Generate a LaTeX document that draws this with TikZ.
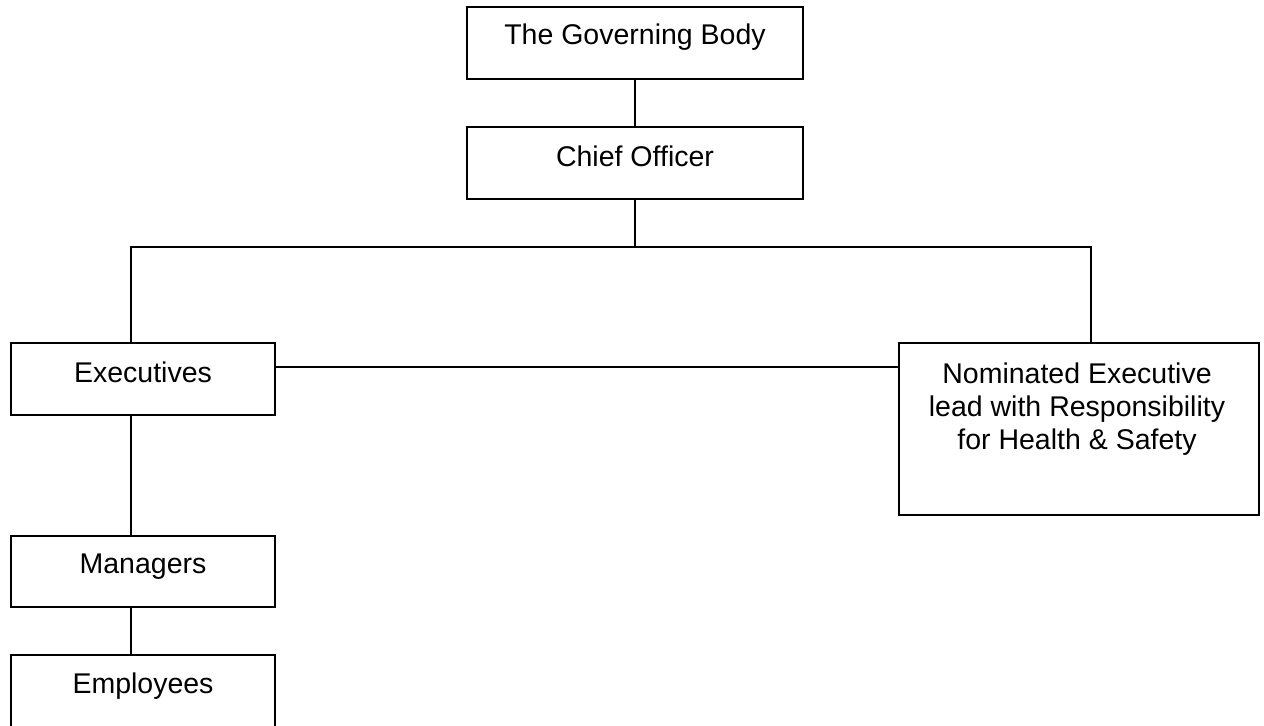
\documentclass[tikz,border=0pt]{standalone}
\usepackage{fontspec}
\setmainfont{Liberation Sans}
\begin{document}
\begin{tikzpicture}[x=0.5pt,y=-0.5pt,
  box/.style={draw=black, line width=1pt, fill=none},
  lbl/.style={anchor=base, align=center, inner sep=0pt, font=\fontsize{14.25}{14}\selectfont},
  conn/.style={draw=black, line width=1pt}]
\useasboundingbox (0,0) rectangle (1264,725);
\clip (0,0) rectangle (1264,725);
% boxes
\draw[box] (467,7) rectangle (803,79);
\coordinate (gbS) at (635,79);
\draw[box] (467,127) rectangle (803,199);
\coordinate (coN) at (635,127);
\coordinate (coS) at (635,199);
\draw[box] (11,343) rectangle (275,415);
\coordinate (exN) at (131,343);
\coordinate (exS) at (131,415);
\coordinate (exE) at (275,367);
\draw[box] (899,343) rectangle (1259,515);
\coordinate (neN) at (1091,343);
\coordinate (neW) at (899,367);
\draw[box] (11,536) rectangle (275,607);
\coordinate (maN) at (131,536);
\coordinate (maS) at (131,607);
\draw[box] (11,655) rectangle (275,740);
\coordinate (emN) at (131,655);
% labels
\node[lbl] (gb) at (635,44) {The Governing Body};
\node[lbl] (co) at (635,166) {Chief Officer};
\node[lbl] (ex) at (143,382) {Executives};
\node[lbl] (ne1) at (1077,383) {Nominated Executive};
\node[lbl] (ne2) at (1077,416) {lead with Responsibility};
\node[lbl] (ne3) at (1077,449) {for Health \& Safety};
\node[lbl] (ma) at (143,573) {Managers};
\node[lbl] (em) at (143,693) {Employees};
% connectors
\coordinate (bar) at (635,247);
\draw[conn] (gbS) -- (coN);
\draw[conn] (coS) -- (bar);
\draw[conn] (exN) |- (bar) -| (neN);
\draw[conn] (exE) -- (neW);
\draw[conn] (exS) -- (maN);
\draw[conn] (maS) -- (emN);
\end{tikzpicture}
\end{document}
